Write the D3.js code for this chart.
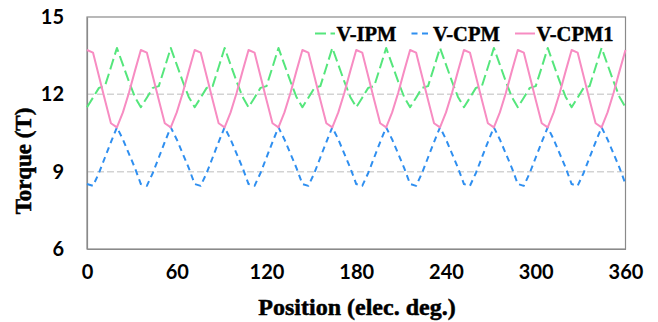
<!DOCTYPE html>
<html>
<head>
<meta charset="utf-8">
<script src="https://cdn.jsdelivr.net/npm/d3@7"></script>
<style>
  html, body { margin: 0; padding: 0; background: #fff; }
  svg { display: block; }
</style>
</head>
<body>
<svg id="chart" width="658" height="322"></svg>
<script>
// ---- data ----
const positions = [
  0,4,8,12,16,20,24,28,32,
  36,40,44,48,52,56,60,64,68,
  72,76,80,84,88,92,96,100,104,
  108,112,116,120,124,128,132,136,140,
  144,148,152,156,160,164,168,172,176,
  180,184,188,192,196,200,204,208,212,
  216,220,224,228,232,236,240,244,248,
  252,256,260,264,268,272,276,280,284,
  288,292,296,300,304,308,312,316,320,
  324,328,332,336,340,344,348,352,356,
  360
];
const vIPM = [
  11.50,11.87,12.25,12.32,13.05,13.80,13.15,12.50,11.90,
  11.50,11.87,12.25,12.32,13.05,13.80,13.15,12.50,11.90,
  11.50,11.87,12.25,12.32,13.05,13.80,13.15,12.50,11.90,
  11.50,11.87,12.25,12.32,13.05,13.80,13.15,12.50,11.90,
  11.50,11.87,12.25,12.32,13.05,13.80,13.15,12.50,11.90,
  11.50,11.87,12.25,12.32,13.05,13.80,13.15,12.50,11.90,
  11.50,11.87,12.25,12.32,13.05,13.80,13.15,12.50,11.90,
  11.50,11.87,12.25,12.32,13.05,13.80,13.15,12.50,11.90,
  11.50,11.87,12.25,12.32,13.05,13.80,13.15,12.50,11.90,
  11.50,11.87,12.25,12.32,13.05,13.80,13.15,12.50,11.90,
  11.50
];
const vCPM = [
  8.52,8.45,8.95,9.55,10.15,10.72,10.25,9.70,9.15,
  8.52,8.45,8.95,9.55,10.15,10.72,10.25,9.70,9.15,
  8.52,8.45,8.95,9.55,10.15,10.72,10.25,9.70,9.15,
  8.52,8.45,8.95,9.55,10.15,10.72,10.25,9.70,9.15,
  8.52,8.45,8.95,9.55,10.15,10.72,10.25,9.70,9.15,
  8.52,8.45,8.95,9.55,10.15,10.72,10.25,9.70,9.15,
  8.52,8.45,8.95,9.55,10.15,10.72,10.25,9.70,9.15,
  8.52,8.45,8.95,9.55,10.15,10.72,10.25,9.70,9.15,
  8.52,8.45,8.95,9.55,10.15,10.72,10.25,9.70,9.15,
  8.52,8.45,8.95,9.55,10.15,10.72,10.25,9.70,9.15,
  8.52
];
const vCPM1 = [
  13.72,13.62,12.70,11.78,10.88,10.72,11.30,12.05,12.90,
  13.72,13.62,12.70,11.78,10.88,10.72,11.30,12.05,12.90,
  13.72,13.62,12.70,11.78,10.88,10.72,11.30,12.05,12.90,
  13.72,13.62,12.70,11.78,10.88,10.72,11.30,12.05,12.90,
  13.72,13.62,12.70,11.78,10.88,10.72,11.30,12.05,12.90,
  13.72,13.62,12.70,11.78,10.88,10.72,11.30,12.05,12.90,
  13.72,13.62,12.70,11.78,10.88,10.72,11.30,12.05,12.90,
  13.72,13.62,12.70,11.78,10.88,10.72,11.30,12.05,12.90,
  13.72,13.62,12.70,11.78,10.88,10.72,11.30,12.05,12.90,
  13.72,13.62,12.70,11.78,10.88,10.72,11.30,12.05,12.90,
  13.72
];
const seriesNames = ["V-IPM", "V-CPM", "V-CPM1"];
const xTicks = [0, 60, 120, 180, 240, 300, 360];
const yTicks = [6, 9, 12, 15];
const gridValues = [9, 12];

// ---- layout ----
const svg = d3.select("#chart");
const L = 87, R = 625.5, T = 17, B = 249;
const x = d3.scaleLinear().domain([0, 360]).range([L, R]);
const y = d3.scaleLinear().domain([6, 15]).range([B, T]);

const styles = [
  { color: "#55e67c", dash: "11,4.5", values: vIPM },
  { color: "#2f8ff0", dash: "6,4.5", values: vCPM },
  { color: "#f78cc2", dash: null, values: vCPM1 }
];

svg.append("rect").attr("width", 658).attr("height", 322).attr("fill", "#fff");

// gridlines
svg.append("g").selectAll("line").data(gridValues).join("line")
  .attr("x1", L).attr("x2", R)
  .attr("y1", d => y(d)).attr("y2", d => y(d))
  .attr("stroke", "#d3d3d3").attr("stroke-width", 1.5)
  .attr("stroke-dasharray", "7,3");

// plot border
svg.append("rect")
  .attr("x", L).attr("y", T).attr("width", R - L).attr("height", B - T)
  .attr("fill", "none").attr("stroke", "#8a8a8a").attr("stroke-width", 1.2);

// axes (labels only, no ticks)
const yAxis = d3.axisLeft(y).tickValues(yTicks).tickSize(0).tickPadding(23);
const gy = svg.append("g").attr("transform", `translate(${L},0)`).call(yAxis);
gy.select(".domain").attr("stroke", "#8a8a8a").attr("stroke-width", 1.2);
gy.selectAll("text")
  .attr("font-family", "Lato, 'Open Sans', sans-serif")
  .attr("font-weight", 700).attr("font-size", 20).attr("fill", "#000");

const xAxis = d3.axisBottom(x).tickValues(xTicks).tickSize(0).tickPadding(16);
const gx = svg.append("g").attr("transform", `translate(0,${B})`).call(xAxis);
gx.select(".domain").attr("stroke", "#8a8a8a").attr("stroke-width", 1.2);
gx.selectAll("text")
  .attr("font-family", "Lato, 'Open Sans', sans-serif")
  .attr("font-weight", 700).attr("font-size", 20).attr("fill", "#000");

// series
const line = d3.line().x((d, i) => x(positions[i])).y(d => y(d));
styles.forEach(s => {
  svg.append("path")
    .attr("d", line(s.values))
    .attr("fill", "none")
    .attr("stroke", s.color)
    .attr("stroke-width", 2)
    .attr("stroke-linejoin", "round")
    .attr("stroke-dasharray", s.dash);
});

// axis titles
svg.append("text")
  .attr("x", 357).attr("y", 315)
  .attr("text-anchor", "middle")
  .attr("font-family", "'Liberation Serif', 'Times New Roman', serif")
  .attr("font-weight", 700).attr("font-size", 24)
  .attr("stroke", "#000").attr("stroke-width", 0.5)
  .text("Position (elec. deg.)");

svg.append("text")
  .attr("transform", "translate(31,161) rotate(-90)")
  .attr("text-anchor", "middle")
  .attr("font-family", "'Liberation Serif', 'Times New Roman', serif")
  .attr("font-weight", 700).attr("font-size", 23)
  .attr("stroke", "#000").attr("stroke-width", 0.5)
  .text("Torque (T)");

// legend
const legendX = [315, 411.5, 515];
const lg = svg.append("g");
styles.forEach((s, i) => {
  lg.append("line")
    .attr("x1", legendX[i]).attr("x2", legendX[i] + 20)
    .attr("y1", 33.5).attr("y2", 33.5)
    .attr("stroke", s.color).attr("stroke-width", 2)
    .attr("stroke-dasharray", s.dash);
  lg.append("text")
    .attr("x", legendX[i] + 21.5).attr("y", 40.5)
    .attr("font-family", "'Liberation Serif', 'Times New Roman', serif")
    .attr("font-weight", 700).attr("font-size", 20.5)
    .attr("stroke", "#000").attr("stroke-width", 0.4)
    .text(seriesNames[i]);
});
</script>
</body>
</html>
